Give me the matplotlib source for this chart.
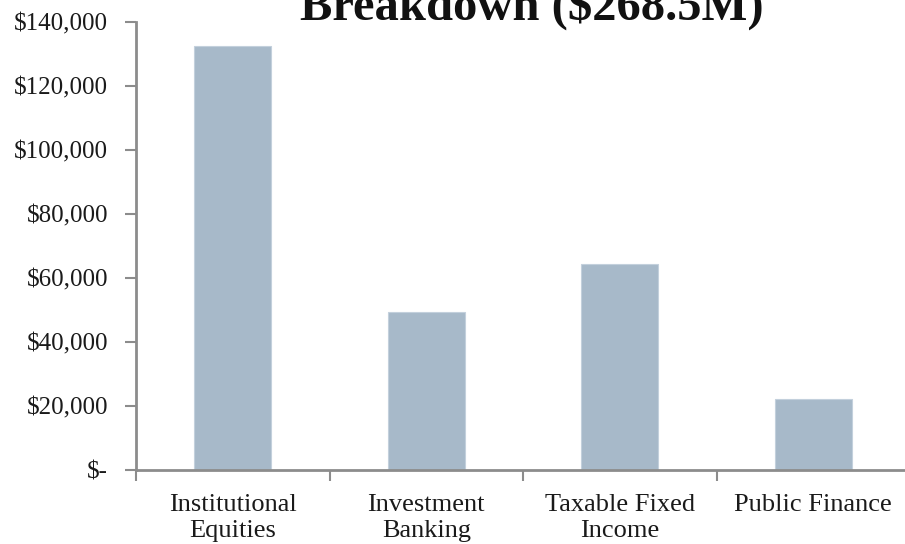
import matplotlib
matplotlib.use("Agg")
import matplotlib.pyplot as plt
from matplotlib.ticker import FuncFormatter, FixedLocator

categories = ["Institutional\nEquities", "Investment\nBanking", "Taxable Fixed\nIncome", "Public Finance"]
revenue = [132500, 49400, 64400, 22200]
y_ticks = [0, 20000, 40000, 60000, 80000, 100000, 120000, 140000]

plt.rcParams['font.family'] = ['Liberation Serif', 'DejaVu Serif']

fig = plt.figure(figsize=(9.05, 5.44), dpi=100)
ax = fig.add_axes([136 / 905, 1 - 470 / 544, 774 / 905, 448 / 544])

x = list(range(len(categories)))
ax.bar(x, revenue, width=0.4, color="#a7b9c9", edgecolor="#c3d0dc", linewidth=0.8, zorder=2)

ax.set_xlim(-0.5, len(categories) - 0.5)
ax.set_ylim(0, 140000)

def money(v, pos):
    if v == 0:
        return "$-"
    return "${:,.0f}".format(v)

ax.yaxis.set_major_locator(FixedLocator(y_ticks))
ax.yaxis.set_major_formatter(FuncFormatter(money))

ax.set_xticks(x)
ax.set_xticklabels(categories, linespacing=1.25)
ax.xaxis.set_minor_locator(FixedLocator([i - 0.5 for i in range(len(categories) + 1)]))

ax.tick_params(axis="x", which="major", length=0, pad=17, labelsize=19, labelcolor="#1a1a1a")
ax.tick_params(axis="x", which="minor", length=8, width=1.5, color="#8c8c8c", direction="out")
ax.tick_params(axis="y", length=8, width=1.5, color="#8c8c8c", direction="out", pad=12,
               labelsize=18, labelcolor="#1a1a1a")

for side in ["top", "right"]:
    ax.spines[side].set_visible(False)
for side in ["left", "bottom"]:
    ax.spines[side].set_color("#8c8c8c")
    ax.spines[side].set_linewidth(2)

fig.text(0.588, 1 - 20 / 544, "Breakdown ($268.5M)", ha="center", va="baseline",
         fontsize=35, fontweight="bold", color="#111111")

fig.savefig("out.png", dpi=100)
